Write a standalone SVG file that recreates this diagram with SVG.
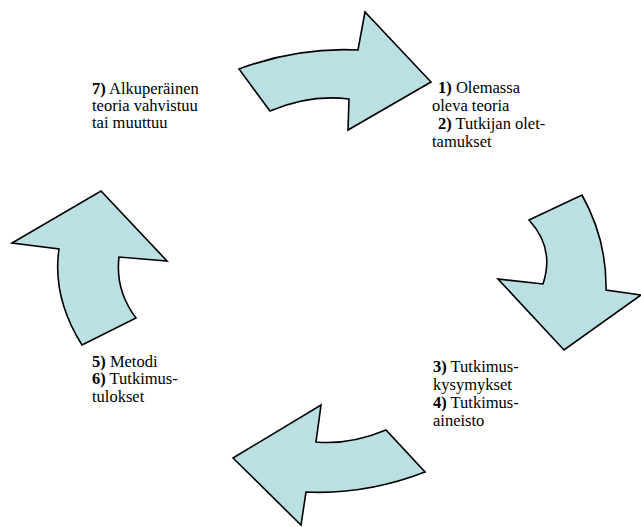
<svg xmlns="http://www.w3.org/2000/svg" width="641" height="527" viewBox="0 0 641 527">
<style>
.arrow{fill:#BBE0E3;stroke:#000;stroke-width:1.6;stroke-linejoin:miter}
</style>
<rect width="641" height="527" fill="#fff"/>
<g id="connectors">
<g id="arrow-top"><path class="arrow" d="M239,69 Q298,47 358,50 L365,12 L431,82 L348,130 L349,99 Q310,94 270,111 Z"/></g>
<g id="arrow-right"><path class="arrow" d="M529,220 L582,195 Q607,240 606,290 L641,295 L564,350 L498,279 L543,284 Q555,248 529,220 Z"/></g>
<g id="arrow-bottom"><path class="arrow" d="M386,430 Q350,445 316,442 L321,405 L233,458 L301,525 L306,492 Q365,495 425,472 Z"/></g>
<g id="arrow-left"><path class="arrow" d="M82,345 L136,318 Q115,290 119,257 L167,261 L101,191 L12,243 L59,249 Q52,297 82,345 Z"/></g>
</g>
<g id="node-7">
<text font-family="Liberation Serif" font-size="16.5" x="92" y="94"><tspan font-weight="bold">7)</tspan> Alkuperäinen</text>
<text font-family="Liberation Serif" font-size="16.5" x="92" y="111">teoria vahvistuu</text>
<text font-family="Liberation Serif" font-size="16.5" x="92" y="128">tai muuttuu</text>
</g>
<g id="node-1-2">
<text font-family="Liberation Serif" font-size="16.5" x="438" y="93"><tspan font-weight="bold">1)</tspan> Olemassa</text>
<text font-family="Liberation Serif" font-size="16.5" x="432" y="111">oleva teoria</text>
<text font-family="Liberation Serif" font-size="16.5" x="438" y="129"><tspan font-weight="bold">2)</tspan> Tutkijan olet-</text>
<text font-family="Liberation Serif" font-size="16.5" x="432" y="147">tamukset</text>
</g>
<g id="node-3-4">
<text font-family="Liberation Serif" font-size="16.5" x="433" y="372"><tspan font-weight="bold">3)</tspan> Tutkimus-</text>
<text font-family="Liberation Serif" font-size="16.5" x="433" y="390">kysymykset</text>
<text font-family="Liberation Serif" font-size="16.5" x="433" y="408"><tspan font-weight="bold">4)</tspan> Tutkimus-</text>
<text font-family="Liberation Serif" font-size="16.5" x="433" y="426">aineisto</text>
</g>
<g id="node-5-6">
<text font-family="Liberation Serif" font-size="16.5" x="92" y="367"><tspan font-weight="bold">5)</tspan> Metodi</text>
<text font-family="Liberation Serif" font-size="16.5" x="92" y="384"><tspan font-weight="bold">6)</tspan> Tutkimus-</text>
<text font-family="Liberation Serif" font-size="16.5" x="92" y="402">tulokset</text>
</g>
</svg>
